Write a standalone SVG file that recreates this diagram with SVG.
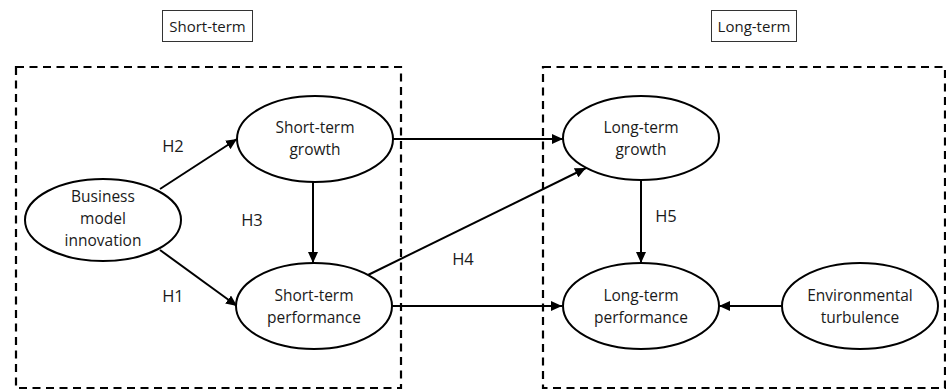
<svg xmlns="http://www.w3.org/2000/svg" width="946" height="390" viewBox="0 0 946 390">
<style>
.t{font-family:"Open Sans","Liberation Sans",sans-serif;font-size:15.5px;fill:#1a1a1a;text-anchor:middle}
.h{font-family:"Open Sans","Liberation Sans",sans-serif;font-size:16.5px;fill:#1a1a1a;text-anchor:middle}
.lb{font-family:"Open Sans","Liberation Sans",sans-serif;font-size:15px;fill:#1a1a1a;text-anchor:middle}
.el{fill:#fff;stroke:#000;stroke-width:2}
.dash{fill:none;stroke:#000;stroke-width:2.2;stroke-dasharray:8 5.5}
.box{fill:#fff;stroke:#333;stroke-width:1}
.c{fill:none;stroke:#000;stroke-width:2;marker-end:url(#ah)}
</style>
<defs>
<marker id="ah" markerUnits="userSpaceOnUse" markerWidth="12" markerHeight="10" refX="11" refY="5" orient="auto">
<path d="M0,0 L11,5 L0,10 Z" fill="#000"/>
</marker>
</defs>
<rect width="946" height="390" fill="#fff"/>
<g id="short-term-frame">
<rect class="dash" x="16" y="67" width="385" height="321"/>
<rect class="box" x="162.5" y="10.5" width="90" height="31"/>
<text class="lb" x="207.5" y="32">Short-term</text>
</g>
<g id="long-term-frame">
<rect class="dash" x="543" y="67" width="402" height="321"/>
<rect class="box" x="711.5" y="10.5" width="85" height="31"/>
<text class="lb" x="754" y="32">Long-term</text>
</g>
<g id="connectors">
<line class="c" x1="160" y1="189" x2="237" y2="139"/>
<line class="c" x1="160" y1="250" x2="237" y2="306"/>
<line class="c" x1="313" y1="182" x2="313" y2="263"/>
<line class="c" x1="393" y1="139" x2="563" y2="139"/>
<line class="c" x1="368" y1="275" x2="586" y2="168"/>
<line class="c" x1="392" y1="306" x2="562" y2="306"/>
<line class="c" x1="641" y1="180" x2="641" y2="263"/>
<line class="c" x1="782" y1="306" x2="719" y2="306"/>
<text class="h" x="173" y="152">H2</text>
<text class="h" x="252" y="226">H3</text>
<text class="h" x="173" y="302">H1</text>
<text class="h" x="463" y="265">H4</text>
<text class="h" x="666" y="222">H5</text>
</g>
<g id="business-model-innovation">
<ellipse class="el" cx="103" cy="220" rx="78" ry="41"/>
<text class="t" x="103" y="202">Business</text>
<text class="t" x="103" y="224">model</text>
<text class="t" x="103" y="246">innovation</text>
</g>
<g id="short-term-growth">
<ellipse class="el" cx="315" cy="139" rx="78" ry="43"/>
<text class="t" x="315" y="133">Short-term</text>
<text class="t" x="315" y="155">growth</text>
</g>
<g id="short-term-performance">
<ellipse class="el" cx="314" cy="306" rx="78" ry="43"/>
<text class="t" x="314" y="301">Short-term</text>
<text class="t" x="314" y="323">performance</text>
</g>
<g id="long-term-growth">
<ellipse class="el" cx="641" cy="138" rx="78" ry="42"/>
<text class="t" x="641" y="133">Long-term</text>
<text class="t" x="641" y="155">growth</text>
</g>
<g id="long-term-performance">
<ellipse class="el" cx="641" cy="306" rx="78" ry="43"/>
<text class="t" x="641" y="301">Long-term</text>
<text class="t" x="641" y="323">performance</text>
</g>
<g id="environmental-turbulence">
<ellipse class="el" cx="860" cy="306" rx="78" ry="43"/>
<text class="t" x="860" y="301">Environmental</text>
<text class="t" x="860" y="323">turbulence</text>
</g>
</svg>
